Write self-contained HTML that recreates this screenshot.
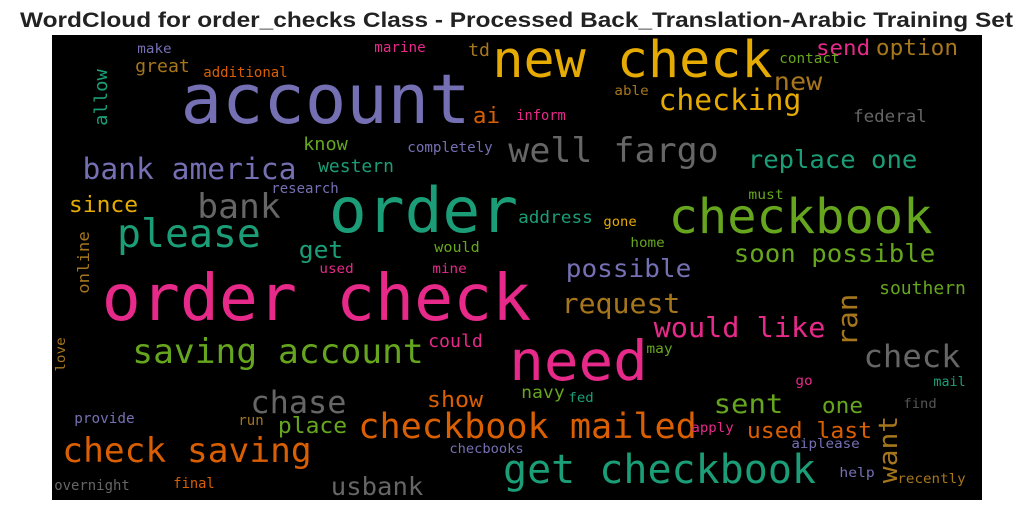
<!DOCTYPE html>
<html><head><meta charset="utf-8"><style>
html,body{margin:0;padding:0;background:#fff;width:1033px;height:511px;overflow:hidden}
svg{display:block}
text{font-family:"DejaVu Sans Mono","Liberation Mono",monospace}
</style></head><body>
<svg id="wc" width="1033" height="511" xmlns="http://www.w3.org/2000/svg">
<text x="20" y="27" textLength="993" lengthAdjust="spacingAndGlyphs" style="font-family:'Liberation Sans',Arial,sans-serif;font-weight:bold;font-size:21px" fill="#222">WordCloud for order_checks Class - Processed Back_Translation-Arabic Training Set</text>
<rect x="52" y="35" width="930" height="465" fill="#000"/>
<g id="words"></g>
</svg>
<script>
const words = ["account","new check","order check","order","checkbook","need","get checkbook","checkbook mailed","saving account","check saving","please","well fargo","bank","bank america","checking","chase","check","request","would like","ran","want","replace one","soon possible","possible","usbank","sent","since","ai","show","place","used last","one","new","send","option","great","td","know","western","allow","get","address","federal","could","navy","southern","online","additional","marine","make","completely","research","would","used","mine","inform","able","contact","must","gone","home","love","provide","run","checbooks","overnight","final","may","go","mail","fed","find","apply","aiplease","help","recently"];
const sizes = [69,51,64,62,48,55,40,35,34,34,39,34,34,29,29,31,31,28,28,28,26,25,25,25,25,27,22,22,22,22,22,22,25,21,22,18,18,18,18,18,24,17,17,18,17,18,16,14,14,13,14,14,14,13,13,14,13,14,13,13,13,13,14,14,13,14,14,13,13,13,13,13,13,13,13,13];
const colors = ["#7570b3","#e6ab02","#e7298a","#1b9e77","#66a61e","#e7298a","#1b9e77","#d95f02","#66a61e","#d95f02","#1b9e77","#666666","#666666","#7570b3","#e6ab02","#666666","#666666","#a6761d","#e7298a","#a6761d","#a6761d","#1b9e77","#66a61e","#7570b3","#666666","#66a61e","#e6ab02","#d95f02","#d95f02","#66a61e","#d95f02","#66a61e","#a6761d","#e7298a","#a6761d","#a6761d","#a6761d","#66a61e","#1b9e77","#1b9e77","#1b9e77","#1b9e77","#666666","#e7298a","#66a61e","#66a61e","#a6761d","#d95f02","#e7298a","#7570b3","#7570b3","#7570b3","#66a61e","#e7298a","#e7298a","#e7298a","#a6761d","#66a61e","#66a61e","#e6ab02","#66a61e","#a6761d","#7570b3","#a6761d","#7570b3","#666666","#d95f02","#66a61e","#e7298a","#1b9e77","#1b9e77","#555555","#e7298a","#7570b3","#7570b3","#a6761d"];
// layout: ink-left x, baseline y, ink width, rotated flag
const layout = [
[184,123,283,0],[495,77,275,0],[105,320,423,0],[332,232,183,0],[671,233,259,0],[512,380,133,0],[505,483,309,0],[360,438,335,0],[134,363,288,0],[64,462,246,0],[119,247,140,0],[510,162,207,0],[199,218,80,0],[84,179,211,0],[660,110,140,0],[252,413,93,0],[865,367,94,0],[563,313,116,0],[655,337,169,0],[857,345,50,1],[897,482,65,1],[749,168,167,0],[735,262,199,0],[567,277,123,0],[332,495,90,0],[715,413,67,0],[70,212,67,0],[474,123,25,0],[428,407,54,0],[279,433,67,0],[748,438,123,0],[823,413,39,0],[775,90,46,0],[817,55,52,0],[877,55,80,0],[136,72,53,0],[469,56,20,0],[304,150,43,0],[319,172,74,0],[107,125,55,1],[300,258,42,0],[519,223,73,0],[854,122,72,0],[429,347,53,0],[522,398,42,0],[880,294,85,0],[89,293,61,1],[204,77,83,0],[375,52,50,0],[138,53,33,0],[408,152,84,0],[272,193,66,0],[435,252,44,0],[320,273,33,0],[433,273,33,0],[517,120,48,0],[615,95,33,0],[780,63,59,0],[749,199,34,0],[604,226,32,0],[631,247,33,0],[65,371,33,1],[75,423,59,0],[239,425,24,0],[450,453,73,0],[55,490,74,0],[174,488,40,0],[647,353,25,0],[796,385,16,0],[934,386,31,0],[569,402,24,0],[904,408,32,0],[692,432,41,0],[792,448,67,0],[840,477,34,0],[898,483,67,0]
];
const g = document.getElementById('words');
const NS = 'http://www.w3.org/2000/svg';
words.forEach((w, i) => {
  const [x, y, wd, rot] = layout[i];
  const s = sizes[i];
  const t = document.createElementNS(NS, 'text');
  t.textContent = w;
  t.setAttribute('font-size', s);
  t.setAttribute('fill', colors[i]);
  t.setAttribute('textLength', (wd + 0.1 * s).toFixed(1));
  t.setAttribute('lengthAdjust', 'spacingAndGlyphs');
  if (rot) {
    t.setAttribute('transform', 'translate(' + x + ',' + (y + 0.05 * s) + ') rotate(-90)');
    t.setAttribute('x', 0); t.setAttribute('y', 0);
  } else {
    t.setAttribute('x', (x - 0.05 * s).toFixed(1));
    t.setAttribute('y', y);
  }
  
  
  g.appendChild(t);
});
</script>
</body></html>
